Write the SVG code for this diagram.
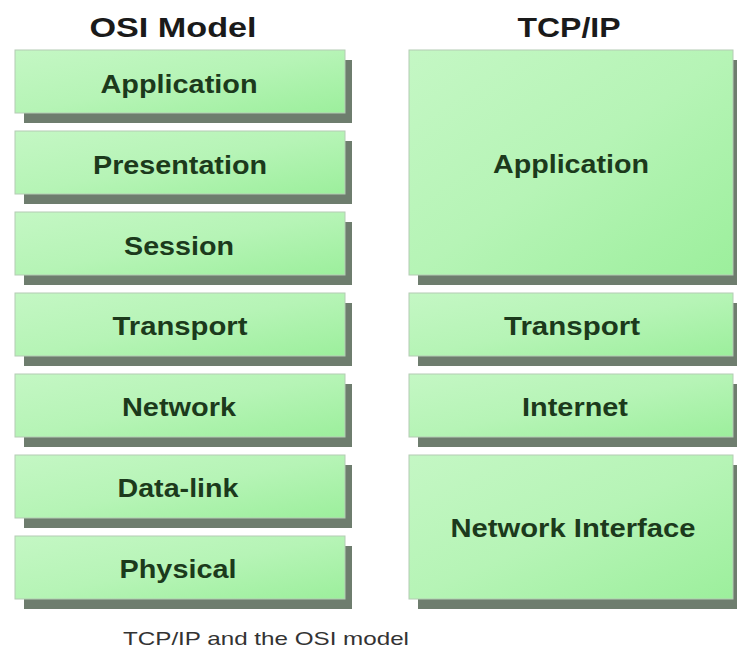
<svg xmlns="http://www.w3.org/2000/svg" width="737" height="653" viewBox="0 0 737 653">
<defs>
<linearGradient id="g" x1="0" y1="0" x2="1" y2="1">
<stop offset="0" stop-color="#c4f7c4"/>
<stop offset="0.5" stop-color="#b6f4b6"/>
<stop offset="1" stop-color="#9cef9c"/>
</linearGradient>
<style>
.sh{fill:#6e7d6e}
.bx{fill:url(#g);stroke:#b4ccb4;stroke-width:1}
.lb{font-family:"Liberation Sans",Arial,sans-serif;font-weight:bold;font-size:25px;fill:#1c3a1c;text-anchor:middle}
.ti{font-family:"Liberation Sans",Arial,sans-serif;font-weight:bold;font-size:28px;fill:#1a1a1a;text-anchor:middle}
.cap{font-family:"Liberation Sans",Arial,sans-serif;font-size:19px;fill:#333;text-anchor:middle}
</style>
</defs>
<rect width="737" height="653" fill="#fff"/>
<text class="ti" x="173" y="37" textLength="167" lengthAdjust="spacingAndGlyphs">OSI Model</text>
<text class="ti" x="569" y="37" textLength="103" lengthAdjust="spacingAndGlyphs">TCP/IP</text>
<g id="osi-application"><rect class="sh" x="24" y="60" width="328" height="63"/><rect class="bx" x="15" y="50" width="330" height="63"/><text class="lb" x="179" y="93" textLength="157" lengthAdjust="spacingAndGlyphs">Application</text></g>
<g id="osi-presentation"><rect class="sh" x="24" y="141" width="328" height="63"/><rect class="bx" x="15" y="131" width="330" height="63"/><text class="lb" x="180" y="174" textLength="174" lengthAdjust="spacingAndGlyphs">Presentation</text></g>
<g id="osi-session"><rect class="sh" x="24" y="222" width="328" height="63"/><rect class="bx" x="15" y="212" width="330" height="63"/><text class="lb" x="179" y="255" textLength="110" lengthAdjust="spacingAndGlyphs">Session</text></g>
<g id="osi-transport"><rect class="sh" x="24" y="303" width="328" height="63"/><rect class="bx" x="15" y="293" width="330" height="63"/><text class="lb" x="180" y="335" textLength="135" lengthAdjust="spacingAndGlyphs">Transport</text></g>
<g id="osi-network"><rect class="sh" x="24" y="384" width="328" height="63"/><rect class="bx" x="15" y="374" width="330" height="63"/><text class="lb" x="179" y="416" textLength="114" lengthAdjust="spacingAndGlyphs">Network</text></g>
<g id="osi-datalink"><rect class="sh" x="24" y="465" width="328" height="63"/><rect class="bx" x="15" y="455" width="330" height="63"/><text class="lb" x="178" y="497" textLength="121" lengthAdjust="spacingAndGlyphs">Data-link</text></g>
<g id="osi-physical"><rect class="sh" x="24" y="546" width="328" height="63"/><rect class="bx" x="15" y="536" width="330" height="63"/><text class="lb" x="178" y="578" textLength="117" lengthAdjust="spacingAndGlyphs">Physical</text></g>
<g id="tcp-application"><rect class="sh" x="418" y="60" width="330" height="225"/><rect class="bx" x="409" y="50" width="324" height="225"/><text class="lb" x="571" y="173" textLength="156" lengthAdjust="spacingAndGlyphs">Application</text></g>
<g id="tcp-transport"><rect class="sh" x="418" y="303" width="330" height="63"/><rect class="bx" x="409" y="293" width="324" height="63"/><text class="lb" x="572" y="335" textLength="136" lengthAdjust="spacingAndGlyphs">Transport</text></g>
<g id="tcp-internet"><rect class="sh" x="418" y="384" width="330" height="63"/><rect class="bx" x="409" y="374" width="324" height="63"/><text class="lb" x="575" y="416" textLength="106" lengthAdjust="spacingAndGlyphs">Internet</text></g>
<g id="tcp-network-interface"><rect class="sh" x="418" y="465" width="330" height="144"/><rect class="bx" x="409" y="455" width="324" height="144"/><text class="lb" x="573" y="537" textLength="245" lengthAdjust="spacingAndGlyphs">Network Interface</text></g>
<g id="connectors"></g>
<text class="cap" x="266" y="645" textLength="286" lengthAdjust="spacingAndGlyphs">TCP/IP and the OSI model</text>
</svg>
